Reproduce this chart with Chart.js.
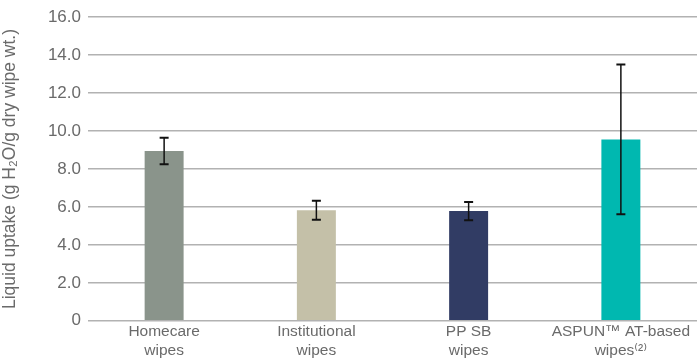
<!DOCTYPE html>
<html>
<head>
<meta charset="utf-8">
<script src="https://cdn.jsdelivr.net/npm/chart.js@4"></script>
<style>
  html, body { margin: 0; padding: 0; background: #ffffff; }
  #wrap { width: 697px; height: 362px; }
</style>
</head>
<body>
<div id="wrap"><canvas id="uptake" width="697" height="362"></canvas></div>
<script>
// categories and values
var categories = [
    ['Homecare', 'wipes'],
    ['Institutional', 'wipes'],
    ['PP SB', 'wipes'],
    ['ASPUN\u2122 AT-based', 'wipes\u207D\u00B2\u207E']
];
var uptakeValues = [8.95, 5.83, 5.78, 9.56];
var errorValues = [0.70, 0.50, 0.48, 3.95];
var barColors = ['#8a948b', '#c4c0a8', '#313c64', '#00b8b0'];

var yMin = 0, yMax = 16, yStep = 2;
var axisTitle = 'Liquid uptake (g H\u2082O/g dry wipe wt.)';

var textColor = '#6a6a6a';
var gridColor = '#b2b2b2';
var fontFamily = '"Liberation Sans", "DejaVu Sans", sans-serif';

// error bars drawn through the scales
var errorBarPlugin = {
    id: 'errorBars',
    afterDatasetsDraw: function (chart) {
        var ctx = chart.ctx;
        var xScale = chart.scales.x;
        var yScale = chart.scales.y;
        ctx.save();
        ctx.strokeStyle = '#111111';
        for (var i = 0; i < uptakeValues.length; i++) {
            var x = xScale.getPixelForValue(i);
            var yTop = yScale.getPixelForValue(uptakeValues[i] + errorValues[i]);
            var yBot = yScale.getPixelForValue(uptakeValues[i] - errorValues[i]);
            ctx.lineWidth = 1.5;
            ctx.beginPath();
            ctx.moveTo(x, yTop);
            ctx.lineTo(x, yBot);
            ctx.stroke();
            ctx.lineWidth = 2;
            ctx.beginPath();
            ctx.moveTo(x - 4.5, yTop);
            ctx.lineTo(x + 4.5, yTop);
            ctx.moveTo(x - 4.5, yBot);
            ctx.lineTo(x + 4.5, yBot);
            ctx.stroke();
        }
        ctx.restore();
    }
};

var chart = new Chart(document.getElementById('uptake'), {
    type: 'bar',
    data: {
        labels: categories,
        datasets: [{
            data: uptakeValues,
            backgroundColor: barColors,
            borderWidth: 0,
            barPercentage: 0.256,
            categoryPercentage: 1.0
        }]
    },
    options: {
        responsive: false,
        animation: false,
        layout: { padding: { top: 16, right: 0, bottom: 0, left: 0 } },
        plugins: {
            legend: { display: false },
            tooltip: { enabled: false }
        },
        scales: {
            x: {
                grid: { display: false, drawTicks: false },
                border: { display: false },
                ticks: {
                    color: textColor,
                    font: { family: fontFamily, size: 15.5, lineHeight: 1.2 },
                    padding: 2,
                    maxRotation: 0,
                    autoSkip: false
                },
                afterFit: function (scale) {
                    scale.paddingLeft = 0;
                    scale.paddingRight = 0;
                }
            },
            y: {
                min: yMin,
                max: yMax,
                grid: { color: gridColor, lineWidth: 1.5, drawTicks: false },
                border: { display: false },
                ticks: {
                    stepSize: yStep,
                    color: textColor,
                    padding: 7,
                    font: { family: fontFamily, size: 17 },
                    callback: function (v) { return v === 0 ? '0' : v.toFixed(1); }
                },
                title: {
                    display: true,
                    text: axisTitle,
                    color: textColor,
                    padding: { top: 0, bottom: 6 },
                    font: { family: fontFamily, size: 17.5 }
                },
                afterFit: function (scale) { scale.width = 88; }
            }
        }
    },
    plugins: [errorBarPlugin]
});
</script>
</body>
</html>
